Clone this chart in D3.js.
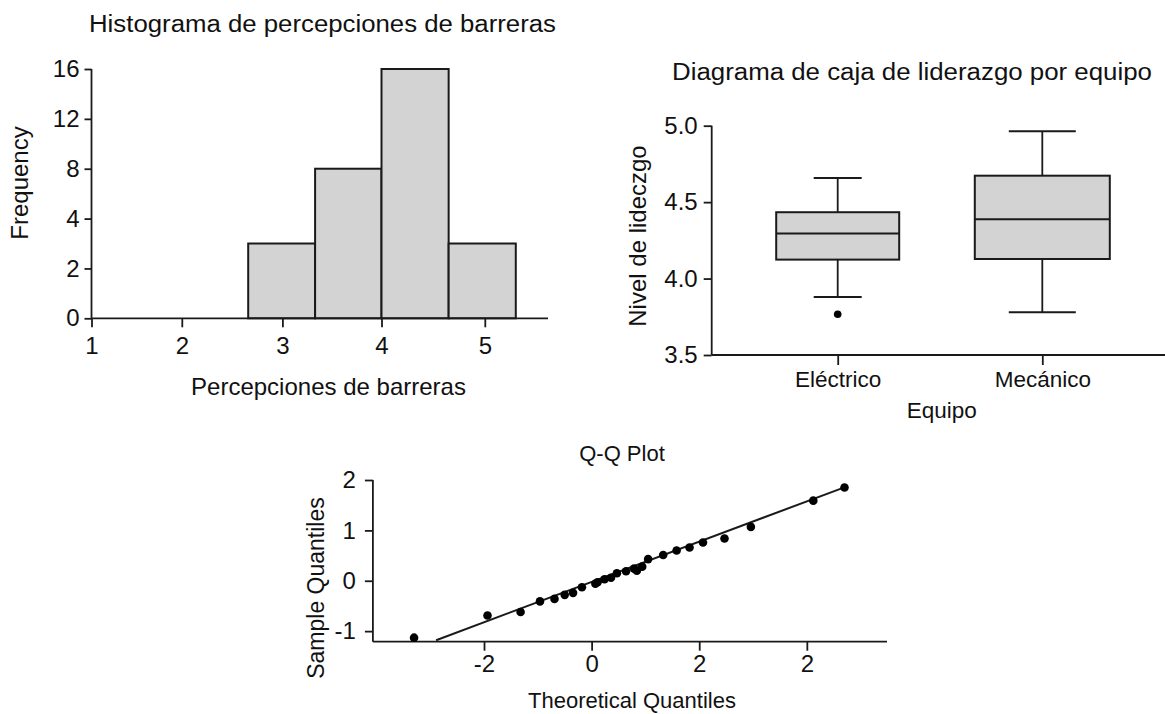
<!DOCTYPE html>
<html>
<head>
<meta charset="utf-8">
<script src="https://cdn.jsdelivr.net/npm/d3@7"></script>
<style>
  body { margin: 0; background: #fff; }
  text { font-family: "Liberation Sans", Arial, sans-serif; fill: #111; }
</style>
</head>
<body>
<script>
// ---- data ----
const histBinEdges = [2.66, 3.33, 4.0, 4.65, 5.3];
const histCounts = [3, 8, 16, 3];
const histXTicks = [1, 2, 3, 4, 5];
const histYTicks = [0, 2, 4, 8, 12, 16];

const boxGroups = ["Eléctrico", "Mecánico"];
const boxQ1 = [4.124, 4.128];
const boxMedian = [4.294, 4.388];
const boxQ3 = [4.434, 4.673];
const whiskerLow = [3.880, 3.780];
const whiskerHigh = [4.658, 4.963];
const boxOutliers = [[3.767], []];
const boxYTicks = [3.5, 4.0, 4.5, 5.0];

const qqTheoretical = [-3.30, -1.935, -1.32, -0.96, -0.69, -0.50, -0.345, -0.18, 0.07, 0.11,
  0.24, 0.36, 0.47, 0.64, 0.79, 0.84, 0.94, 1.05, 1.33, 1.58, 1.82, 2.07, 2.47, 2.96, 4.12, 4.70];
const qqSample = [-1.13, -0.69, -0.62, -0.41, -0.36, -0.28, -0.24, -0.13, -0.06, -0.03,
  0.03, 0.06, 0.15, 0.19, 0.24, 0.20, 0.28, 0.43, 0.51, 0.60, 0.66, 0.76, 0.84, 1.07, 1.59, 1.85];
const qqLineX = [-2.89, 4.66];
const qqLineY = [-1.18, 1.84];
const qqXTicks = [-2, 0, 2, 4];
const qqXTickLabels = ["-2", "0", "2", "2"];
const qqYTicks = [-1, 0, 1, 2];

const W = 1165, H = 714;
const ink = "#1a1a1a", grey = "#d3d3d3";
const tickFs = "24px", labelFs = "24px";

const svg = d3.select("body").append("svg")
  .attr("width", W)
  .attr("height", H);

function styleAxis(g, size) {
  g.select(".domain").remove();
  g.selectAll(".tick line").attr("stroke", ink).attr("stroke-width", 1.8);
  g.selectAll(".tick text").style("font-size", size || tickFs).attr("fill", "#111");
}

function hline(x1, x2, y) {
  svg.append("line").attr("x1", x1).attr("x2", x2).attr("y1", y).attr("y2", y)
    .attr("stroke", ink).attr("stroke-width", 1.8);
}
function vline(x, y1, y2) {
  svg.append("line").attr("x1", x).attr("x2", x).attr("y1", y1).attr("y2", y2)
    .attr("stroke", ink).attr("stroke-width", 1.8);
}

// ---------- Histogram ----------
const hx = d3.scaleLinear()
  .domain(histXTicks)
  .range([91.5, 181.8, 282.4, 381.5, 484.8]);
const hy = d3.scaleLinear()
  .domain(histYTicks)
  .range(histYTicks.map((d, i) => 318.3 - i * 49.86));

svg.append("g")
  .selectAll("rect")
  .data(histCounts)
  .join("rect")
  .attr("x", (d, i) => hx(histBinEdges[i]))
  .attr("width", (d, i) => hx(histBinEdges[i + 1]) - hx(histBinEdges[i]))
  .attr("y", d => hy(d))
  .attr("height", d => hy(0) - hy(d))
  .attr("fill", grey)
  .attr("stroke", ink)
  .attr("stroke-width", 2);

svg.append("g")
  .attr("transform", `translate(0,${hy(0)})`)
  .call(d3.axisBottom(hx).tickValues(histXTicks).tickSize(9).tickPadding(10).tickFormat(d => String(d)))
  .call(styleAxis);
svg.append("g")
  .attr("transform", `translate(${hx(1)},0)`)
  .call(d3.axisLeft(hy).tickValues(histYTicks).tickSize(7).tickPadding(5).tickFormat(d => String(d)))
  .call(styleAxis);
hline(hx(1), 548, hy(0));
vline(hx(1), hy(16), hy(0));

svg.append("text")
  .attr("x", 89).attr("y", 31.5)
  .attr("textLength", 467).attr("lengthAdjust", "spacingAndGlyphs")
  .style("font-size", "23px")
  .text("Histograma de percepciones de barreras");
svg.append("text")
  .attr("text-anchor", "middle")
  .attr("x", 328.5).attr("y", 395)
  .style("font-size", labelFs)
  .text("Percepciones de barreras");
svg.append("text")
  .attr("text-anchor", "middle")
  .attr("transform", "translate(28,183) rotate(-90)")
  .style("font-size", labelFs)
  .text("Frequency");

// ---------- Box plot ----------
const bx = d3.scalePoint()
  .domain(boxGroups)
  .range([837.7, 1042.3]);
const by = d3.scaleLinear()
  .domain([3.5, 5.0])
  .range([355, 125.7]);
const boxWidth = {"Eléctrico": 123, "Mecánico": 135};
const capWidth = {"Eléctrico": 48, "Mecánico": 67};

svg.append("g")
  .attr("transform", `translate(0,${by(3.5)})`)
  .call(d3.axisBottom(bx).tickSize(10).tickPadding(6))
  .call(styleAxis, "22.5px");
svg.append("g")
  .attr("transform", `translate(711.7,0)`)
  .call(d3.axisLeft(by).tickValues(boxYTicks).tickSize(8).tickPadding(6).tickFormat(d3.format(".1f")))
  .call(styleAxis);
hline(711.7, W, by(3.5));
vline(711.7, by(5.0), by(3.5));

const boxG = svg.append("g");
boxGroups.forEach((g, i) => {
  const cx = bx(g), bw = boxWidth[g], cw = capWidth[g];
  // whiskers
  boxG.append("line").attr("x1", cx).attr("x2", cx)
    .attr("y1", by(boxQ3[i])).attr("y2", by(whiskerHigh[i]))
    .attr("stroke", ink).attr("stroke-width", 1.8);
  boxG.append("line").attr("x1", cx).attr("x2", cx)
    .attr("y1", by(boxQ1[i])).attr("y2", by(whiskerLow[i]))
    .attr("stroke", ink).attr("stroke-width", 1.8);
  boxG.append("line").attr("x1", cx - cw / 2).attr("x2", cx + cw / 2)
    .attr("y1", by(whiskerHigh[i])).attr("y2", by(whiskerHigh[i]))
    .attr("stroke", ink).attr("stroke-width", 2);
  boxG.append("line").attr("x1", cx - cw / 2).attr("x2", cx + cw / 2)
    .attr("y1", by(whiskerLow[i])).attr("y2", by(whiskerLow[i]))
    .attr("stroke", ink).attr("stroke-width", 2);
  // box
  boxG.append("rect")
    .attr("x", cx - bw / 2).attr("width", bw)
    .attr("y", by(boxQ3[i])).attr("height", by(boxQ1[i]) - by(boxQ3[i]))
    .attr("fill", grey).attr("stroke", ink).attr("stroke-width", 2);
  boxG.append("line").attr("x1", cx - bw / 2).attr("x2", cx + bw / 2)
    .attr("y1", by(boxMedian[i])).attr("y2", by(boxMedian[i]))
    .attr("stroke", ink).attr("stroke-width", 2);
  boxG.selectAll(null)
    .data(boxOutliers[i])
    .join("circle")
    .attr("cx", cx).attr("cy", d => by(d)).attr("r", 3.8)
    .attr("fill", "#000");
});

svg.append("text")
  .attr("x", 672).attr("y", 79.5)
  .attr("textLength", 480).attr("lengthAdjust", "spacingAndGlyphs")
  .style("font-size", "23px")
  .text("Diagrama de caja de liderazgo por equipo");
svg.append("text")
  .attr("text-anchor", "middle")
  .attr("x", 941.7).attr("y", 418)
  .style("font-size", "22.5px")
  .text("Equipo");
svg.append("text")
  .attr("text-anchor", "middle")
  .attr("transform", "translate(646,236) rotate(-90)")
  .style("font-size", labelFs)
  .text("Nivel de lideczgo");

// ---------- Q-Q plot ----------
const qx = d3.scaleLinear()
  .domain([-4.065, 5.49])
  .range([372.9, 887]);
const qy = d3.scaleLinear()
  .domain([-1.21, 2.02])
  .range([641.7, 479]);

svg.append("g")
  .attr("transform", `translate(0,${qy(-1.21)})`)
  .call(d3.axisBottom(qx).tickValues(qqXTicks).tickSize(9).tickPadding(4)
    .tickFormat((d, i) => qqXTickLabels[i]))
  .call(styleAxis);
svg.append("g")
  .attr("transform", `translate(${qx(-4.065)},0)`)
  .call(d3.axisLeft(qy).tickValues(qqYTicks).tickSize(8).tickPadding(9).tickFormat(d => String(d)))
  .call(styleAxis);
hline(qx(-4.065), qx(5.49), qy(-1.21));
vline(qx(-4.065), qy(2), qy(-1.21));

svg.append("line")
  .attr("x1", qx(qqLineX[0])).attr("y1", qy(qqLineY[0]))
  .attr("x2", qx(qqLineX[1])).attr("y2", qy(qqLineY[1]))
  .attr("stroke", ink).attr("stroke-width", 2);

svg.append("g")
  .selectAll("circle")
  .data(qqTheoretical)
  .join("circle")
  .attr("cx", d => qx(d))
  .attr("cy", (d, i) => qy(qqSample[i]))
  .attr("r", 4.3)
  .attr("fill", "#000");

svg.append("text")
  .attr("text-anchor", "middle")
  .attr("x", 622).attr("y", 461)
  .style("font-size", "22px")
  .text("Q-Q Plot");
svg.append("text")
  .attr("text-anchor", "middle")
  .attr("x", 632).attr("y", 708)
  .style("font-size", "22px")
  .text("Theoretical Quantiles");
svg.append("text")
  .attr("text-anchor", "middle")
  .attr("transform", "translate(324,588) rotate(-90)")
  .style("font-size", "23px")
  .text("Sample Quantiles");
</script>
</body>
</html>
